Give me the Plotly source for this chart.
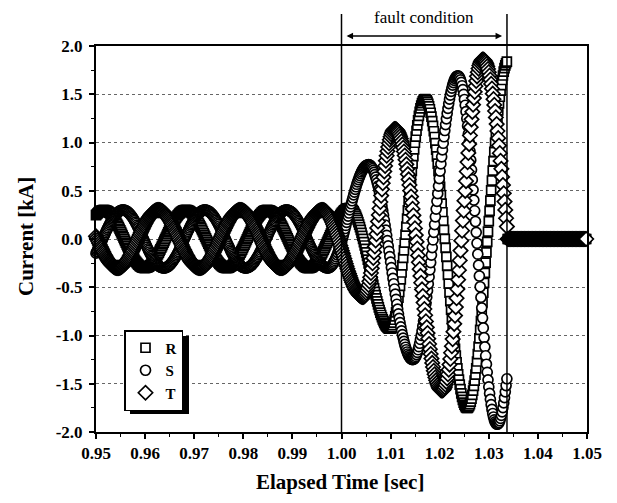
import numpy as np
import plotly.graph_objects as go

# ---------------- data ----------------
phase_names = ["R", "S", "T"]
marker_symbols = ["square", "circle", "diamond"]
marker_sizes = [9, 10, 11]

# successive current extrema (time in s, current in kA) read for each phase
R_peak_t = [0.9433, 0.9516, 0.9599, 0.9683, 0.9766, 0.9849, 0.9933, 1.0016, 1.0099, 1.0170, 1.0256, 1.0340]
R_peak_i = [-0.30, 0.30, -0.30, 0.30, -0.30, 0.30, -0.30, 0.32, -0.93, 1.45, -1.75, 1.85]
S_peak_t = [0.9472, 0.9555, 0.9638, 0.9722, 0.9805, 0.9888, 0.9972, 1.0055, 1.0145, 1.0237, 1.0317, 1.0400]
S_peak_i = [-0.30, 0.30, -0.30, 0.30, -0.30, 0.30, -0.30, 0.77, -1.25, 1.69, -1.92, 1.60]
T_peak_t = [0.9461, 0.9544, 0.9627, 0.9711, 0.9794, 0.9877, 0.9961, 1.0044, 1.0109, 1.0205, 1.0288, 1.0380]
T_peak_i = [0.30, -0.30, 0.30, -0.30, 0.30, -0.30, 0.30, -0.60, 1.14, -1.57, 1.86, -1.30]

fault_start = 1.000
fault_clear = 1.0337
post_fault_level = [0.0, 0.0, 0.0]
sample_step = 0.00016
t_first, t_last = 0.95, 1.05

x_tick_vals = [0.95, 0.96, 0.97, 0.98, 0.99, 1.00, 1.01, 1.02, 1.03, 1.04, 1.05]
x_tick_text = ["0.95", "0.96", "0.97", "0.98", "0.99", "1.00", "1.01", "1.02", "1.03", "1.04", "1.05"]
y_tick_vals = [-2.0, -1.5, -1.0, -0.5, 0.0, 0.5, 1.0, 1.5, 2.0]
y_tick_text = ["-2.0", "-1.5", "-1.0", "-0.5", "0.0", "0.5", "1.0", "1.5", "2.0"]


def sampled_phase(peak_t, peak_i, t, clear, post):
    """Sample a recorded waveform passing through the read extrema (half-cosine between them)."""
    pt = np.asarray(peak_t)
    pi_ = np.asarray(peak_i)
    k = np.clip(np.searchsorted(pt, t) - 1, 0, len(pt) - 2)
    t0, t1 = pt[k], pt[k + 1]
    a, b = pi_[k], pi_[k + 1]
    f = (t - t0) / (t1 - t0)
    y = (a + b) / 2 + (a - b) / 2 * np.cos(np.pi * f)
    return np.where(t <= clear, y, post)


t = np.arange(t_first, t_last + 1e-9, sample_step)
peaks = [(R_peak_t, R_peak_i), (S_peak_t, S_peak_i), (T_peak_t, T_peak_i)]

SERIF = "Liberation Serif, Times New Roman, serif"

# plot area in the reference picture (pixels): x 96..587, y 46..432
PX0, PW, PY0, PH = 96, 491, 46, 386
PY1 = PY0 + PH
OFF = 8  # page body margin
FIG_W, FIG_H = 617 - OFF, 503 - OFF


def px(xp):
    return (xp - PX0) / PW


def py(yp):
    return (PY1 - yp) / PH


fig = go.Figure()
for name, sym, size, (pt, pv), post in zip(phase_names, marker_symbols, marker_sizes, peaks, post_fault_level):
    fig.add_trace(go.Scatter(
        x=t, y=sampled_phase(pt, pv, t, fault_clear, post),
        mode="markers", name="<b>" + name + "</b>", cliponaxis=False,
        marker=dict(symbol=sym, size=size, color="white",
                    line=dict(color="black", width=1.7)),
    ))

# fault interval markers
for xv in [fault_start, fault_clear]:
    fig.add_shape(type="line", xref="x", yref="paper", x0=xv, x1=xv, y0=0, y1=py(14),
                  line=dict(color="black", width=1.5), layer="above")

fig.add_annotation(x=(fault_start + fault_clear) / 2, y=py(18), xref="x", yref="paper",
                   text="fault condition", showarrow=False, yanchor="middle",
                   font=dict(family=SERIF, size=17, color="black"))
fig.add_annotation(x=1.0327, y=py(36), xref="x", yref="paper", text="",
                   showarrow=True, ax=-157, ay=0, axref="pixel", ayref="pixel",
                   arrowhead=2, arrowside="end+start", arrowsize=1, arrowwidth=1.3,
                   arrowcolor="black")

# axis titles
fig.add_annotation(x=px(340), y=py(482), xref="paper", yref="paper", showarrow=False,
                   text="<b>Elapsed Time [sec]</b>", xanchor="center", yanchor="middle",
                   font=dict(family=SERIF, size=21, color="black"))
fig.add_annotation(x=px(26), y=py(237), xref="paper", yref="paper", showarrow=False,
                   text="<b>Current [kA]</b>", textangle=-90, xanchor="center", yanchor="middle",
                   font=dict(family=SERIF, size=21, color="black"))

# legend shadow
fig.add_shape(type="rect", xref="paper", yref="paper",
              x0=px(130), x1=px(189), y0=py(414), y1=py(336),
              fillcolor="black", line=dict(width=0), layer="above")

fig.update_layout(
    width=FIG_W, height=FIG_H,
    margin=dict(l=PX0 - OFF, r=FIG_W - (PX0 - OFF) - PW, t=PY0 - OFF, b=FIG_H - (PY0 - OFF) - PH),
    paper_bgcolor="white", plot_bgcolor="white",
    showlegend=True,
    legend=dict(x=px(124), y=py(330), xanchor="left", yanchor="top",
                bgcolor="white", bordercolor="black", borderwidth=1.5,
                font=dict(family=SERIF, size=15, color="black"),
                itemwidth=30, tracegroupgap=0),
    font=dict(family=SERIF, color="black"),
)

fig.update_xaxes(
    range=[t_first, t_last], tickmode="array", tickvals=x_tick_vals,
    ticktext=["<b>" + s + "</b>" for s in x_tick_text],
    ticks="outside", ticklen=5, tickwidth=1.5, tickcolor="black",
    minor=dict(ticks="outside", ticklen=3, tickwidth=1, tickcolor="black",
               tickmode="linear", tick0=0.955, dtick=0.01),
    showline=True, linecolor="black", linewidth=2, mirror=True, showgrid=False, zeroline=False,
    tickfont=dict(family=SERIF, size=17, color="black"), automargin=False,
)
fig.update_yaxes(
    range=[-2.0, 2.0], tickmode="array", tickvals=y_tick_vals,
    ticktext=["<b>" + s + "</b>" for s in y_tick_text],
    ticks="outside", ticklen=5, tickwidth=1.5, tickcolor="black", ticklabelstandoff=3,
    minor=dict(ticks="outside", ticklen=3, tickwidth=1, tickcolor="black",
               tickmode="linear", tick0=0.25, dtick=0.5),
    showline=True, linecolor="black", linewidth=2, mirror=True,
    showgrid=True, gridcolor="#666666", gridwidth=1, griddash="dot", zeroline=False,
    tickfont=dict(family=SERIF, size=17, color="black"), automargin=False,
)

fig.write_html("out.html")
